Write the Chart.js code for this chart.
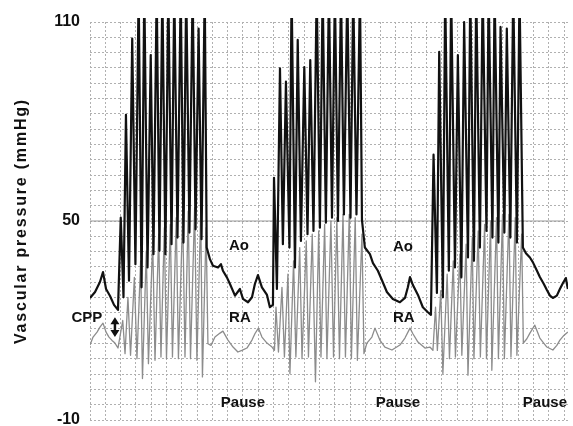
<!DOCTYPE html>
<html>
<head>
<meta charset="utf-8">
<title>Vascular pressure during CPR</title>
<script src="https://cdn.jsdelivr.net/npm/chart.js@4.4.0/dist/chart.umd.min.js"></script>
<style>
  body { margin: 0; background: #fff; }
  #wrap { width: 573px; height: 426px; }
</style>
</head>
<body>
<div id="wrap"><canvas id="pressure"></canvas></div>
<script>
//AORTIC PRESSURE (Ao) - time in s, pressure in mmHg

const aoTime = [
  0.00, 0.33, 0.65, 0.85, 1.05, 1.31, 1.57, 1.83,
  2.01, 2.19, 2.35, 2.55, 2.76, 2.97, 3.18, 3.37, 3.55, 3.76, 3.97, 4.15, 4.36, 4.54, 4.73, 4.93, 5.12, 5.33, 5.51, 5.72, 5.93, 6.11, 6.29, 6.50, 6.71, 6.90, 7.10, 7.29, 7.50, 7.63,
  7.84, 8.04, 8.37, 8.56, 8.69, 8.95, 9.15, 9.48, 9.80, 10.00, 10.33, 10.59, 10.78, 10.98, 11.24, 11.57, 11.76, 11.96,
  12.03, 12.22, 12.42, 12.61, 12.81, 13.04, 13.18, 13.40, 13.58, 13.79, 14.01, 14.22, 14.40, 14.61, 14.82, 15.03, 15.21, 15.42, 15.62, 15.82, 16.01, 16.21, 16.41, 16.60, 16.82, 17.03, 17.21, 17.42, 17.65, 17.78,
  17.97, 18.30, 18.50, 18.82, 19.08, 19.41, 19.80, 20.26, 20.59, 20.78, 20.92, 21.11, 21.44, 21.76, 22.09, 22.29,
  22.46, 22.68, 22.83, 23.07, 23.22, 23.46, 23.61, 23.86, 24.05, 24.28, 24.46, 24.71, 24.86, 25.10, 25.25, 25.49, 25.67, 25.92, 26.06, 26.31, 26.45, 26.70, 26.84, 27.09, 27.25, 27.48, 27.67, 27.91, 28.08, 28.30,
  28.50, 28.76, 28.95, 29.22, 29.41, 29.67, 29.87, 30.07, 30.26, 30.52, 30.72, 30.92, 31.11, 31.24
];
const aoPressure = [
  26.8, 28.6, 31.6, 34.6, 29.5, 27.4, 24.7, 23.2,
  51, 27, 82, 32, 105, 37, 120, 30, 120, 36, 100, 40, 120, 41, 120, 40, 120, 43, 120, 45, 120, 43.5, 120, 46.5, 120, 47.5, 108, 44.5, 120, 42,
  38.5, 36.5, 36, 37, 35, 33, 31, 27.5, 29.5, 26.5, 25.5, 27, 31, 33.7, 30, 27.7, 24, 24.7,
  63, 29.5, 96, 43, 92, 42, 120, 36, 104.6, 44, 96.4, 46, 98.5, 47, 120, 48, 120, 49.5, 120, 51, 120, 50, 120, 52, 120, 51, 120, 52, 120, 50.3,
  42, 40, 37.3, 35, 32.2, 28.6, 26.5, 25.5, 26.8, 30, 33.1, 30.7, 27.7, 24, 22.5, 21.7,
  70, 28.3, 101, 27, 120, 35, 120, 36, 100, 33, 110, 39, 120, 38, 120, 42, 120, 47, 120, 45, 120, 43.5, 108.5, 46.5, 108, 45, 120, 43.5, 120, 42,
  40.3, 39, 37.6, 35, 33.1, 31, 29.2, 27.5, 26.8, 27.5, 29.5, 31.3, 32.8, 29.5
];

//RIGHT ATRIAL PRESSURE (RA)

const raTime = [
  0.00, 0.20, 0.46, 0.65, 0.85, 1.05, 1.24, 1.44, 1.63, 1.83,
  2.14, 2.29, 2.48, 2.65, 2.90, 3.07, 3.31, 3.43, 3.68, 3.82, 4.10, 4.25, 4.49, 4.64, 4.86, 5.00, 5.25, 5.39, 5.64, 5.78, 6.06, 6.21, 6.42, 6.57, 6.84, 6.99, 7.24, 7.35, 7.59,
  7.71, 7.91, 8.17, 8.50, 8.69, 9.02, 9.35, 9.67, 9.93, 10.26, 10.59, 10.78, 11.01, 11.24, 11.57, 11.90, 12.06,
  12.16, 12.32, 12.55, 12.71, 12.94, 13.07, 13.31, 13.46, 13.71, 13.86, 14.14, 14.28, 14.53, 14.74, 14.95, 15.10, 15.34, 15.49, 15.75, 15.92, 16.14, 16.31, 16.54, 16.70, 16.95, 17.09, 17.34, 17.48, 17.78,
  17.91, 18.10, 18.43, 18.63, 18.95, 19.28, 19.74, 20.26, 20.59, 20.92, 21.11, 21.44, 21.90, 22.22, 22.42,
  22.59, 22.71, 22.93, 23.07, 23.35, 23.50, 23.75, 23.89, 24.18, 24.31, 24.59, 24.71, 24.99, 25.10, 25.38, 25.52, 25.80, 25.92, 26.19, 26.27, 26.58, 26.70, 26.97, 27.09, 27.39, 27.52, 27.80, 27.91, 28.22,
  28.33, 28.56, 28.76, 29.08, 29.41, 29.61, 29.87, 30.26, 30.52, 30.72, 30.98, 31.24
];
const raPressure = [
  12.6, 15, 16.5, 18, 19.2, 16.5, 15, 14, 13.2, 11.7,
  20, 10, 27, 9.5, 33, 8.5, 38, 2.5, 41, 7, 44, 8, 46, 9, 48, 8.5, 49, 9, 51, 8.5, 52, 9, 53, 8.5, 54, 8, 53, 3, 48,
  13, 12.5, 15, 16.2, 16.8, 14.1, 12, 10.5, 11, 11.7, 14.1, 16, 17.7, 15, 13.2, 12, 11,
  24, 10.5, 30, 9, 34, 4, 38, 9, 42, 8.5, 44, 9, 46, 1.5, 47, 9, 49, 8.5, 50, 9, 51, 8.5, 52, 9, 52, 8.5, 51, 8, 46,
  10, 13.2, 15, 17.7, 14.1, 12, 11.1, 12.6, 14.7, 17.7, 16, 13.5, 11.7, 12, 11,
  24, 11, 29, 4, 34, 8.5, 38, 9, 40, 9.5, 43, 3.5, 45, 8.5, 47, 9, 49, 8.5, 50, 5, 51, 8.5, 52, 8.5, 52, 9, 51, 9.5, 46,
  13.2, 14.5, 16.2, 18.6, 14.7, 13.5, 12, 11.1, 12.5, 14.1, 15.5, 16.5
];

//AXIS
const yTickLabels = [110, 50, -10];
const yMin = -10, yMax = 110, yGridSteps = 26;
const timeMax = 31.25;
const yTitle = 'Vascular pressure (mmHg)';

//Text written on the trace (position in s / mmHg)
const notes = [
  { text: 'Ao', x: 9.74, y: 42.5 },
  { text: 'RA', x: 9.8, y: 20.8 },
  { text: 'Ao', x: 20.46, y: 42.2 },
  { text: 'RA', x: 20.52, y: 20.8 },
  { text: 'CPP', x: -0.2, y: 20.8 },
  { text: 'Pause', x: 10.0, y: -4.9 },
  { text: 'Pause', x: 20.13, y: -4.9 },
  { text: 'Pause', x: 29.74, y: -4.9 }
];
const cppArrow = { x: 1.63, top: 21, bottom: 15 };

const boldFont = '"Liberation Sans", Arial, sans-serif';

const toPoints = (t, p) => t.map((v, i) => ({ x: v, y: p[i] }));

const tracePlugin = {
  id: 'traceNotes',
  beforeDatasetsDraw(chart) {
    const { ctx, chartArea, scales } = chart;
    const y50 = scales.y.getPixelForValue(50);
    ctx.save();
    ctx.strokeStyle = '#999';
    ctx.lineWidth = 1.2;
    ctx.beginPath();
    ctx.moveTo(chartArea.left, y50);
    ctx.lineTo(chartArea.right - 3, y50);
    ctx.stroke();
    ctx.restore();
  },
  afterDatasetsDraw(chart) {
    const { ctx, chartArea, scales } = chart;
    ctx.save();
    ctx.font = 'bold 15px ' + boldFont;
    ctx.fillStyle = '#111';
    ctx.textAlign = 'center';
    ctx.textBaseline = 'middle';
    notes.forEach(n => {
      ctx.fillText(n.text, scales.x.getPixelForValue(n.x), scales.y.getPixelForValue(n.y));
    });

    //double arrow for CPP
    const ax = scales.x.getPixelForValue(cppArrow.x);
    const y1 = scales.y.getPixelForValue(cppArrow.top);
    const y2 = scales.y.getPixelForValue(cppArrow.bottom);
    ctx.strokeStyle = '#111';
    ctx.lineWidth = 2.5;
    ctx.beginPath();
    ctx.moveTo(ax, y1 + 5);
    ctx.lineTo(ax, y2 - 5);
    ctx.stroke();
    ctx.beginPath();
    ctx.moveTo(ax, y1);
    ctx.lineTo(ax - 4.5, y1 + 7);
    ctx.lineTo(ax + 4.5, y1 + 7);
    ctx.closePath();
    ctx.moveTo(ax, y2);
    ctx.lineTo(ax - 4.5, y2 - 7);
    ctx.lineTo(ax + 4.5, y2 - 7);
    ctx.closePath();
    ctx.fill();

    //axis title, a little wider spaced than the default
    ctx.translate(22, (chartArea.top + chartArea.bottom) / 2);
    ctx.rotate(-Math.PI / 2);
    ctx.font = 'bold 16px ' + boldFont;
    ctx.letterSpacing = '1.8px';
    ctx.fillText(yTitle, 0, 0);
    ctx.restore();
  }
};

const pressureChart = new Chart(document.getElementById('pressure'), {
  type: 'line',
  data: {
    datasets: [
      {
        label: 'Ao',
        data: toPoints(aoTime, aoPressure),
        borderColor: '#111',
        borderWidth: 2.2,
        borderJoinStyle: 'round',
        pointRadius: 0,
        tension: 0,
        clip: { left: 0, top: 4, right: 0, bottom: 0 }
      },
      {
        label: 'RA',
        data: toPoints(raTime, raPressure),
        borderColor: '#8c8c8c',
        borderWidth: 1.3,
        borderJoinStyle: 'round',
        pointRadius: 0,
        tension: 0
      }
    ]
  },
  options: {
    responsive: true,
    maintainAspectRatio: false,
    animation: false,
    layout: { padding: { top: 22, right: 5, bottom: 6, left: 0 } },
    plugins: {
      legend: { display: false },
      tooltip: { enabled: false }
    },
    scales: {
      x: {
        type: 'linear',
        min: 0,
        max: timeMax,
        border: { display: false, dash: [2, 2] },
        grid: { color: '#b0b0b0', drawTicks: false },
        ticks: { display: false, stepSize: 1, includeBounds: false, autoSkip: false }
      },
      y: {
        min: yMin,
        max: yMax,
        border: { display: false, dash: [2, 2] },
        grid: { color: '#b0b0b0', drawTicks: false },
        afterBuildTicks(scale) {
          const ticks = [];
          for (let k = 0; k <= yGridSteps; k += 1) {
            ticks.push({ value: yMin + k * (yMax - yMin) / yGridSteps });
          }
          scale.ticks = ticks;
        },
        afterFit(scale) {
          scale.width = 90;
          scale.paddingTop = 0;
          scale.paddingBottom = 0;
        },
        ticks: {
          autoSkip: false,
          padding: 10,
          color: '#111',
          font: { family: boldFont, size: 16, weight: 'bold' },
          callback: (value) => {
            const hit = yTickLabels.find(l => Math.abs(l - value) < 0.01);
            return hit === undefined ? '' : String(hit);
          }
        }
      }
    }
  },
  plugins: [tracePlugin]
});
</script>
</body>
</html>
